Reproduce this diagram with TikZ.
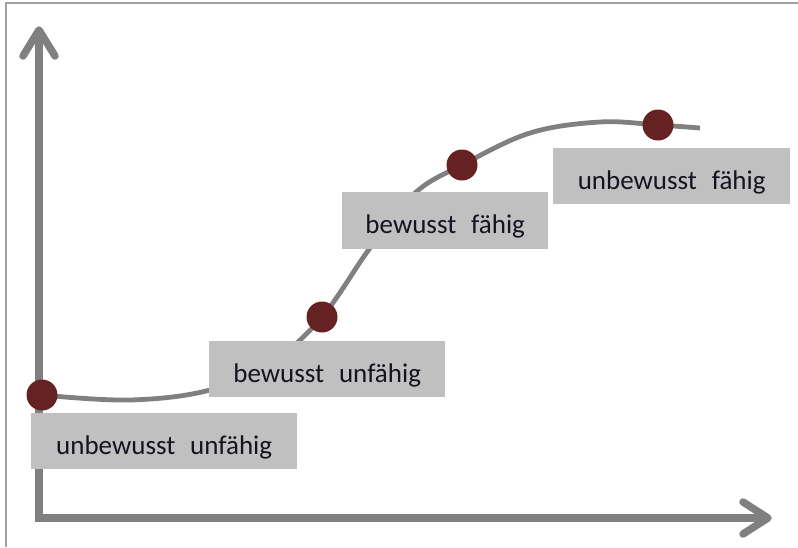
\documentclass[tikz,border=0pt]{standalone}
\usepackage{fontspec}
\setmainfont{Carlito}
\definecolor{axisgray}{HTML}{808080}
\definecolor{boxgray}{HTML}{C0C0C0}
\definecolor{dotred}{HTML}{662222}
\definecolor{framegray}{HTML}{A0A0A0}
\definecolor{txt}{HTML}{141420}
\begin{document}
\begin{tikzpicture}[x=1pt,y=-1pt,
  axisline/.style={draw=axisgray, line width=7.5pt, line join=miter},
  chevron/.style={draw=axisgray, line width=7.5pt, line cap=round, line join=round},
  curveline/.style={draw=axisgray, line width=4.8pt},
  stagebox/.style={fill=boxgray, anchor=north west, inner sep=0pt, minimum height=56pt,
    text height=29pt, text depth=3pt, text=txt, font=\fontsize{27}{30}\selectfont},
  stagedot/.style={circle, fill=dotred, minimum size=31pt, inner sep=0pt}]
\useasboundingbox (0,0) rectangle (798,547);
% frame
\draw[framegray, line width=2pt] (6,547) -- (6,3) -- (798,3);
% axes
\coordinate (ytip) at (39,30);
\coordinate (origin) at (39,518);
\coordinate (xtip) at (768,518);
\draw[axisline] (ytip) -- (origin) -- (xtip);
\draw[chevron] (23,56) -- (ytip) -- (55,56);
\draw[chevron] (743,502) -- (xtip) -- (743,534);
% curve
\coordinate (c0) at (42,395);
\coordinate (c1) at (322,317);
\coordinate (c2) at (462,165);
\coordinate (c3) at (658,125);
\coordinate (cend) at (700,128);
\draw[curveline] plot[smooth, tension=0.6] coordinates {(c0) (130,400) (210,390) (272,362) (c1) (370,248) (415,193) (c2) (530,133) (600,122) (c3) (cend)};
% boxes
\node[stagebox, minimum width=266pt] (b1) at (31,413) {unbewusst\hspace{0.55em}unfähig\hspace{9pt}};
\node[stagebox, minimum width=236pt] (b2) at (209,341) {bewusst\hspace{0.55em}unfähig\hspace{7pt}};
\node[stagebox, minimum width=206pt, minimum height=57pt] (b3) at (342,192) {bewusst\hspace{0.55em}fähig};
\node[stagebox, minimum width=237pt] (b4) at (553,148) {unbewusst\hspace{0.55em}fähig};
% dots
\node[stagedot] (d1) at (c0) {};
\node[stagedot] (d2) at (c1) {};
\node[stagedot] (d3) at (c2) {};
\node[stagedot] (d4) at (c3) {};
\end{tikzpicture}
\end{document}
